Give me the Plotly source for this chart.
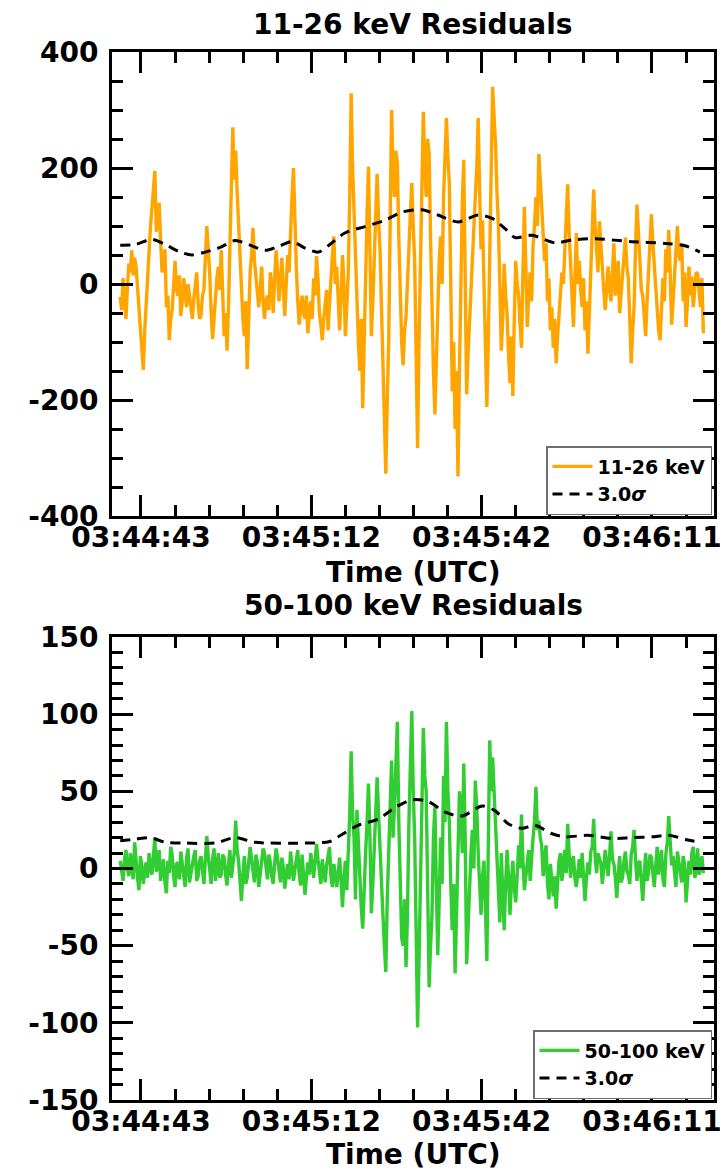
import plotly.graph_objects as go

# ---- time axis (seconds after 03:44:00 UTC) ----
TICK_VALS = [42.6, 72.1, 101.6, 131.1]
TICK_TEXT = ["03:44:43", "03:45:12", "03:45:42", "03:46:11"]
T0 = 39.0      # first sample time (s after 03:44:00)
STEP = 0.25    # sample spacing (s)

Y1_TICKS = [-400, -200, 0, 200, 400]
Y1_TEXT = ["-400", "-200", "0", "200", "400"]
Y2_TICKS = [-150, -100, -50, 0, 50, 100, 150]
Y2_TEXT = ["-150", "-100", "-50", "0", "50", "100", "150"]

# ---- 11-26 keV residuals (rows of 20 samples = 5 s) ----
low_rate = [
    -22, -45, 10, -20, -60, -5, 35, 20, 58, 15, 45, 30, -10, -40, -70, -110, -148, -80, -30, 10,          # 39.0
    60, 100, 130, 160, 195, 90, 110, 140, 75, 20, 30, 60, -40, -20, -97, -60, -45, -10, 40, -10,           # 44.0
    -20, 15, -55, -30, 10, -15, -40, 0, -20, -45, -60, -25, 5, 20, -35, -60, -55, -20, -10, 40,            # 49.0
    100, 60, 20, -50, -95, -60, -20, 10, 30, -10, 58, -20, -90, -50, -115, -40, 60, 150, 270, 180,         # 54.0
    230, 160, 100, 30, -20, -60, -90, -30, -147, -60, 20, 50, 97, 40, 10, -20, -40, -10, 30, -30,          # 59.0
    -60, -30, -20, -45, 20, 0, -50, 10, 58, 20, -30, 10, 45, -10, -55, 0, 50, 20, 110, 150,                # 64.0
    200, 90, 30, -30, -70, -40, -20, -50, -60, -20, -85, -50, -30, -60, 10, -20, 48, 10, -50, -70,         # 69.0
    -97, -60, -40, -10, -80, -30, 20, 50, 82, 0, 30, -40, -80, -20, 50, 0, -90, -40, 20, 150,              # 74.0
    329, 200, 120, 20, -62, -100, -150, -60, -214, -80, 60, 120, 202, 40, -90, -30, 40, 100, 190, 110,     # 79.0
    60, -40, -150, -230, -327, -200, -100, 100, 300, 200, 150, 230, 208, 80, -40, -100, -140, -80, -57, -10,  # 84.0
    60, 120, 174, 100, 40, -120, -283, -100, 20, 160, 297, 200, 150, 250, 226, 80, -60, -150, -225, -130,  # 89.0
    -30, 40, 82, 0, 150, 220, 286, 220, 174, 0, -185, -100, -250, -150, -332, -150, 40, 140, 214, 0,       # 94.0
    -190, -120, -60, 0, 58, 100, 150, 200, 286, 160, 60, 110, -10, -120, -212, -100, 80, 220, 340, 290,    # 99.0
    243, 160, 100, 0, -115, -60, 35, -20, -50, -120, -171, -90, -193, -60, 40, 0, -20, -70, -110, 20,      # 104.0
    133, 30, -74, -20, 20, -30, 65, 100, 150, 100, 224, 180, 128, 80, 40, 70, -30, 10, -80, -40,           # 109.0
    -110, -60, -137, -90, -56, -10, 20, 0, 60, 120, 172, 90, 30, -20, -74, 10, 88, 0, 40, -10,             # 114.0
    -40, 10, -80, -30, -120, -50, 20, 80, 163, 100, 60, 20, 108, 60, 20, -10, -45, 0, 30, -10,             # 119.0
    -30, 20, 70, -20, 20, 40, -50, -20, 10, 40, 80, 30, 10, -60, -137, -80, -40, 60, 137, 90,              # 124.0
    50, -10, -20, -60, -90, -30, 30, 60, 120, 70, 30, -10, -40, -80, -97, -40, 10, -30, 60, 20,            # 129.0
    93, 20, -70, -30, 20, 60, 100, 50, 40, 70, -30, 20, -74, -30, 30, -20, 13, -40, -10, 20,               # 134.0
    18, -20, -40, 10, -85,                                                                                 # 139.0
]
low_sigma_t = [39.0, 41.6, 44.5, 46.8, 49.4, 51.4, 53.7, 56.3, 58.9, 61.5,
               64.1, 66.7, 68.8, 71.0, 73.3, 75.3, 77.9, 81.4, 84.9, 87.8,
               91.3, 94.0, 97.5, 101.0, 103.4, 105.7, 107.4, 110.3, 114.3,
               117.3, 121.2, 127.6, 133.4, 136.8, 139.4]
low_sigma = [67, 68, 77, 68, 55, 50, 55, 63, 75, 67,
             58, 66, 73, 62, 55, 68, 88, 99, 110, 124,
             128, 119, 107, 119, 113, 95, 80, 84, 71,
             76, 78, 73, 70, 66, 55]

# ---- 50-100 keV residuals (rows of 20 samples = 5 s) ----
high_rate = [
    5, -3, -8, 6, 12, 0, -5, 10, 3, -7, 17, 4, -6, -14, 8, 2, -10, -2, 4, -6,              # 39.0
    10, 1, -4, 8, 20, -2, 2, 12, -8, -1, 6, -9, -16, 5, -3, 14, 9, -5, -12, 3,             # 44.0
    4, -7, 11, 3, -6, -12, 7, 13, -9, -2, 3, 8, 12, -8, -5, 5, 8, -3, -10, 6,              # 49.0
    21, 8, -2, -10, 6, 13, -8, 1, 10, -6, -4, 9, 7, -4, -11, 3, 12, -6, 2, 10,             # 54.0
    31, 12, 5, -8, -21, -4, 8, -10, -6, 4, 14, 6, -3, -9, 9, 4, -12, -2, 5, 13,            # 59.0
    10, -2, -7, 9, 4, -5, -10, 3, 13, 7, -2, -9, 7, 1, -13, -5, 3, -7, 11, 2,              # 64.0
    -8, -1, 6, 12, -4, -11, 9, -3, -17, -6, 4, -4, 10, 3, -6, 5, 16, 6, -3, -10,           # 69.0
    6, -2, -9, 2, 8, 14, -5, -12, 3, -4, -12, -3, 7, -8, -25, -6, 5, -14, 10, 35,          # 74.0
    76, 35, 20, -20, 38, 15, -10, -25, -39, -20, 10, 30, 55, 20, -29, -10, 15, 30, 59, 35,  # 79.0
    10, -15, -30, -50, -67, -20, 20, 40, 70, 20, 40, 70, 95, 30, -20, -45, -50, -20, -64, -30,  # 84.0
    30, 70, 102, 50, 20, -40, -103, -60, -20, 40, 91, 60, 50, -20, -77, -50, -30, 20, 40, -10,  # 89.0
    -56, -20, 20, -10, 60, 30, 95, 50, 30, -10, -40, -10, -68, -30, 10, 50, 40, 10, 68, 20,     # 94.0
    -62, -35, -20, 10, 25, 0, 57, 40, 10, -15, -30, -5, 5, -25, -60, 15, 83, 50, 72, 50,        # 99.0
    30, 0, -20, -35, 10, -15, -40, -10, 12, -5, -30, -10, 5, -12, -22, -5, 15, 0, 35, 5,        # 104.0
    -14, -5, 5, 12, -8, 8, 20, 30, 53, 25, 31, 20, 15, -5, 5, 15, -10, -20, 3, -8,              # 109.0
    -18, -5, -26, -10, 5, 10, -8, 2, 12, -3, 29, 10, -6, 4, 8, -6, -12, -3, 6, -6,              # 114.0
    10, -6, -21, -6, 4, -4, 11, 14, 32, 8, -3, 10, 7, 3, -10, 2, 12, 3, -5, 8,                  # 119.0
    24, 6, 3, -6, -19, -4, 8, -9, -6, 5, 11, -2, -4, -10, 9, 14, 25, 6, -8, 3,                  # 124.0
    5, -8, -21, -5, 10, -8, -3, 9, 7, -3, -12, 2, 14, -4, 3, 12, -7, -12, 9, 17,                # 129.0
    34, 12, 2, 8, -6, -12, 11, 4, -4, -9, 8, 3, -22, -8, 5, -4, 10, 14, -6, -2,                 # 134.0
    13, -4, 2, 8, -3,                                                                            # 139.0
]
high_sigma_t = [39.0, 41.6, 44.2, 46.8, 50.2, 55.4, 58.9, 62.3, 71.0, 75.3,
                77.4, 80.2, 83.7, 86.6, 89.5, 92.3, 95.3, 98.2, 101.7, 103.9,
                106.2, 108.6, 110.8, 113.8, 116.0, 120.0, 124.2, 127.6, 131.1,
                133.9, 137.3, 139.4]
high_sigma = [18, 19, 20, 17, 16.5, 16.5, 20, 17, 16.5, 17.5,
              22, 28, 32, 39.5, 44.5, 43.5, 36.5, 34, 40.5, 37.5,
              29, 26, 28, 22.5, 20.5, 21.5, 19.5, 20, 20.5,
              21.5, 18.5, 17]

t_low = [T0 + STEP * i for i in range(len(low_rate))]
t_high = [T0 + STEP * i for i in range(len(high_rate))]

FONT = "DejaVu Sans, Liberation Sans, Arial, sans-serif"
# the page body has an 8 px margin, so the figure is drawn 8 px smaller
W, H = 720, 1166
XDOM = [104 / W, 706 / W]
Y1DOM = [1 - 508 / H, 1 - 44 / H]
Y2DOM = [1 - 1092 / H, 1 - 629 / H]
XRANGE = [37.58, 141.84]

fig = go.Figure()
fig.add_trace(go.Scatter(x=t_low, y=low_rate, mode="lines", name="11-26 keV",
                         line=dict(color="#FFA500", width=3.4),
                         xaxis="x", yaxis="y", legend="legend"))
fig.add_trace(go.Scatter(x=low_sigma_t, y=low_sigma, mode="lines", name="3.0<i>σ</i>",
                         line=dict(color="black", width=3, dash="10px,7px",
                                   shape="spline", smoothing=0.8),
                         xaxis="x", yaxis="y", legend="legend"))
fig.add_trace(go.Scatter(x=t_high, y=high_rate, mode="lines", name="50-100 keV",
                         line=dict(color="#32CD32", width=3.4),
                         xaxis="x2", yaxis="y2", legend="legend2"))
fig.add_trace(go.Scatter(x=high_sigma_t, y=high_sigma, mode="lines", name="3.0<i>σ</i>",
                         line=dict(color="black", width=3, dash="10px,7px",
                                   shape="spline", smoothing=0.8),
                         xaxis="x2", yaxis="y2", legend="legend2"))

tickfont = dict(family=FONT, size=28, color="black", weight="bold")


def xaxis(anchor):
    return dict(domain=XDOM, anchor=anchor, range=XRANGE,
                tickmode="array", tickvals=TICK_VALS, ticktext=TICK_TEXT,
                ticks="inside", ticklen=21, tickwidth=2.5, tickcolor="black",
                showline=True, linewidth=3, linecolor="black", mirror="ticks",
                showgrid=False, zeroline=False, tickfont=tickfont,
                ticklabelstandoff=-6, automargin=False,
                minor=dict(tickmode="linear", tick0=TICK_VALS[0], dtick=5.9,
                           ticks="inside", ticklen=11, tickwidth=2.5,
                           tickcolor="black", showgrid=False))


def yaxis(anchor, dom, rng, tv, tt, mdt):
    return dict(domain=dom, anchor=anchor, range=rng,
                tickmode="array", tickvals=tv, ticktext=tt,
                ticks="inside", ticklen=21, tickwidth=2.5, tickcolor="black",
                showline=True, linewidth=3, linecolor="black", mirror="ticks",
                showgrid=False, zeroline=False, tickfont=tickfont,
                ticklabelstandoff=5, automargin=False,
                minor=dict(tickmode="linear", tick0=0, dtick=mdt,
                           ticks="inside", ticklen=11, tickwidth=2.5,
                           tickcolor="black", showgrid=False))


legend_style = dict(xanchor="right", yanchor="bottom", bgcolor="white",
                    bordercolor="#6e6e6e", borderwidth=1.5,
                    font=dict(family=FONT, size=19, color="black", weight="bold"),
                    tracegroupgap=0, itemwidth=40)

fig.update_layout(
    width=W, height=H, autosize=False,
    margin=dict(l=0, r=0, t=0, b=0),
    paper_bgcolor="white", plot_bgcolor="white",
    xaxis=xaxis("y"),
    yaxis=yaxis("x", Y1DOM, [-400, 400], Y1_TICKS, Y1_TEXT, 50),
    xaxis2=xaxis("y2"),
    yaxis2=yaxis("x2", Y2DOM, [-150, 150], Y2_TICKS, Y2_TEXT, 10),
    legend=dict(x=704 / W, y=1 - 507 / H, **legend_style),
    legend2=dict(x=704 / W, y=1 - 1091 / H, **legend_style),
    showlegend=True,
)

label_font = dict(family=FONT, size=28, color="black")
texts = [
    ("<b>11-26 keV Residuals</b>", 16),
    ("<b>Time (UTC)</b>", 564),
    ("<b>50-100 keV Residuals</b>", 598),
    ("<b>Time (UTC)</b>", 1146),
]
for txt, ypx in texts:
    fig.add_annotation(text=txt, x=405 / W, y=1 - ypx / H, xref="paper", yref="paper",
                       xanchor="center", yanchor="middle", showarrow=False,
                       font=label_font)

fig.write_html("out.html")
